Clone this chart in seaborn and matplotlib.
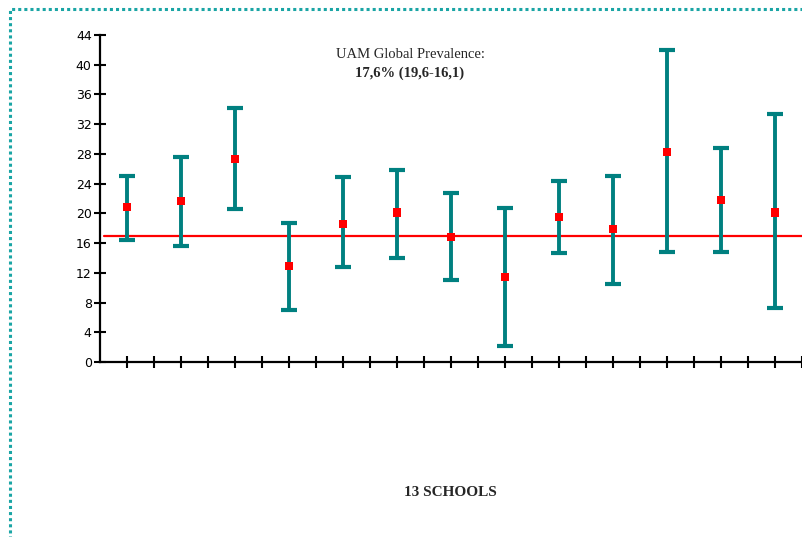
import numpy as np
import pandas as pd
import matplotlib
matplotlib.use("Agg")
import matplotlib.pyplot as plt
import seaborn as sns
from matplotlib.patches import Rectangle

# Dati (prevalenza per scuola, %)
schools = [f"S{i}" for i in range(1, 14)]
prevalence = [20.9, 21.7, 27.3, 12.9, 18.6, 20.1, 16.8, 11.4, 19.5, 17.9, 28.3, 21.8, 20.1]
ci_upper = [25.0, 27.6, 34.2, 18.7, 24.9, 25.8, 22.7, 20.7, 24.3, 25.0, 42.0, 28.8, 33.4]
ci_lower = [16.4, 15.6, 20.6, 7.0, 12.8, 14.0, 11.0, 2.2, 14.7, 10.5, 14.8, 14.8, 7.3]
global_line = 17.0
y_ticks = list(range(0, 45, 4))

TEAL = "#008080"

sns.set_style("white")
plt.rcParams["font.family"] = ["DejaVu Sans"]

fig = plt.figure(figsize=(8.02, 5.37), dpi=100)
ax = fig.add_axes([100 / 802, 175 / 537, 1 - 100 / 802, 327 / 537])

df = pd.DataFrame({"school": schools, "prev": prevalence,
                   "hi": ci_upper, "lo": ci_lower})
df["pos"] = 2 * np.arange(len(df)) + 1

# Barre di errore (intervalli)
ax.errorbar(df["pos"], df["prev"],
            yerr=[df["prev"] - df["lo"], df["hi"] - df["prev"]],
            fmt="none", ecolor=TEAL, elinewidth=2.8, capsize=6, capthick=3, zorder=2)

# Punti rossi (stima)
sns.scatterplot(data=df, x="pos", y="prev", marker="s", color="red",
                s=36, edgecolor="none", ax=ax, zorder=3)

# Linea della prevalenza globale
ax.axhline(global_line, xmin=0.005, xmax=1, color="red", lw=1.6, zorder=1)

ax.set_xlim(0, 26)
ax.set_ylim(0, 44)
ax.set_xticks(np.arange(1, 27))
ax.set_xticklabels([])
ax.set_yticks(y_ticks)
ax.tick_params(axis="both", direction="inout", length=8, width=1.5,
               colors="black", labelsize=9, pad=2, bottom=True, left=True)
ax.set_xlabel("")
ax.set_ylabel("")
for side in ["top", "right"]:
    ax.spines[side].set_visible(False)
for side in ["left", "bottom"]:
    ax.spines[side].set_linewidth(1.6)
    ax.spines[side].set_color("black")
ax.grid(False)

# Testi
fig.text(410 / 802, 1 - 55 / 537, "UAM Global Prevalence:", ha="center", va="center",
         family="Liberation Serif", fontsize=10.5)
fig.text(410 / 802, 1 - 73 / 537, "17,6% (19,6-16,1)", ha="center", va="center",
         family="Liberation Serif", fontsize=10.5, weight="bold")
fig.text(450 / 802, 1 - 493 / 537, "13 SCHOOLS", ha="center", va="center",
         family="Liberation Serif", fontsize=11, weight="bold")

# Cornice tratteggiata
fig.patches.append(Rectangle((10 / 802, -0.1), 1.2, 1 - 9 / 537 + 0.1,
                             transform=fig.transFigure, fill=False,
                             edgecolor="#1aa5a5", lw=2.2, linestyle=(0, (1, 1))))

fig.savefig("out.png", dpi=100)
